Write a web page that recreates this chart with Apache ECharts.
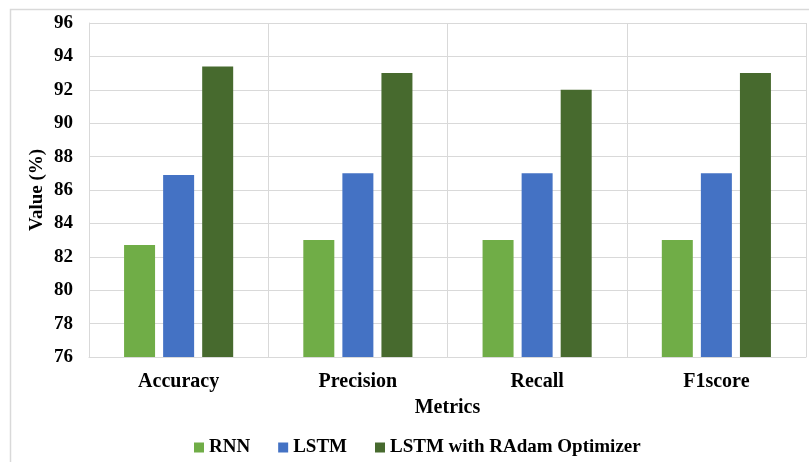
<!DOCTYPE html>
<html>
<head>
<meta charset="utf-8">
<script src="https://cdn.jsdelivr.net/npm/echarts@6/dist/echarts.min.js"></script>
<style>
  html, body { margin: 0; padding: 0; background: #ffffff; }
  #chart { width: 809px; height: 462px; }
</style>
</head>
<body>
<div id="chart"></div>
<script>
// Evaluation metrics per model (%)
const metrics = ['Accuracy', 'Precision', 'Recall', 'F1score'];
const rnnValues = [82.7, 83, 83, 83];
const lstmValues = [86.9, 87, 87, 87];
const lstmRadamValues = [93.4, 93, 92, 93];
const seriesNames = ['RNN', 'LSTM', 'LSTM with RAdam Optimizer'];
const yMin = 76, yMax = 96, yStep = 2;

const serif = '"Liberation Serif", "Times New Roman", serif';
const gridColor = '#d9d9d9';
const colors = ['#70ad47', '#4472c4', '#476a2e'];

const chart = echarts.init(document.getElementById('chart'));

function barSeries(name, data, color) {
  return {
    name: name,
    type: 'bar',
    data: data,
    barWidth: 31,
    barGap: '26%',
    itemStyle: { color: color },
    emphasis: { disabled: true }
  };
}

chart.setOption({
  animation: false,
  backgroundColor: '#ffffff',
  textStyle: { fontFamily: serif },
  graphic: [{
    type: 'rect',
    left: 8, top: 7,
    shape: { width: 820, height: 470 },
    style: { fill: 'none', stroke: gridColor, lineWidth: 1.5 },
    silent: true,
    z: -1
  }],
  grid: { left: 89, right: 3, top: 23, bottom: 105, containLabel: false },
  legend: {
    data: seriesNames,
    left: 189,
    top: 433,
    itemWidth: 10,
    itemHeight: 10,
    itemGap: 28,
    icon: 'rect',
    textStyle: { fontFamily: serif, fontWeight: 'bold', fontSize: 19, color: '#000' }
  },
  xAxis: {
    type: 'category',
    data: metrics,
    name: 'Metrics',
    nameLocation: 'middle',
    nameGap: 41,
    nameMoveOverlap: false,
    nameTextStyle: { fontFamily: serif, fontWeight: 'bold', fontSize: 20, color: '#000' },
    axisLine: { show: true, lineStyle: { color: gridColor, width: 1 } },
    axisTick: { show: false },
    axisLabel: { margin: 15, fontFamily: serif, fontWeight: 'bold', fontSize: 20, color: '#000' },
    splitLine: { show: true, interval: 0, lineStyle: { color: gridColor, width: 1 } }
  },
  yAxis: {
    type: 'value',
    min: yMin,
    max: yMax,
    interval: yStep,
    name: 'Value (%)',
    nameLocation: 'middle',
    nameGap: 42,
    nameMoveOverlap: false,
    nameTextStyle: { fontFamily: serif, fontWeight: 'bold', fontSize: 19, color: '#000' },
    axisLine: { show: true, lineStyle: { color: gridColor } },
    axisTick: { show: false },
    axisLabel: { margin: 16, fontFamily: serif, fontWeight: 'bold', fontSize: 19, color: '#000' },
    splitLine: { show: true, lineStyle: { color: gridColor, width: 1 } }
  },
  series: [
    barSeries(seriesNames[0], rnnValues, colors[0]),
    barSeries(seriesNames[1], lstmValues, colors[1]),
    barSeries(seriesNames[2], lstmRadamValues, colors[2])
  ]
});
</script>
</body>
</html>
